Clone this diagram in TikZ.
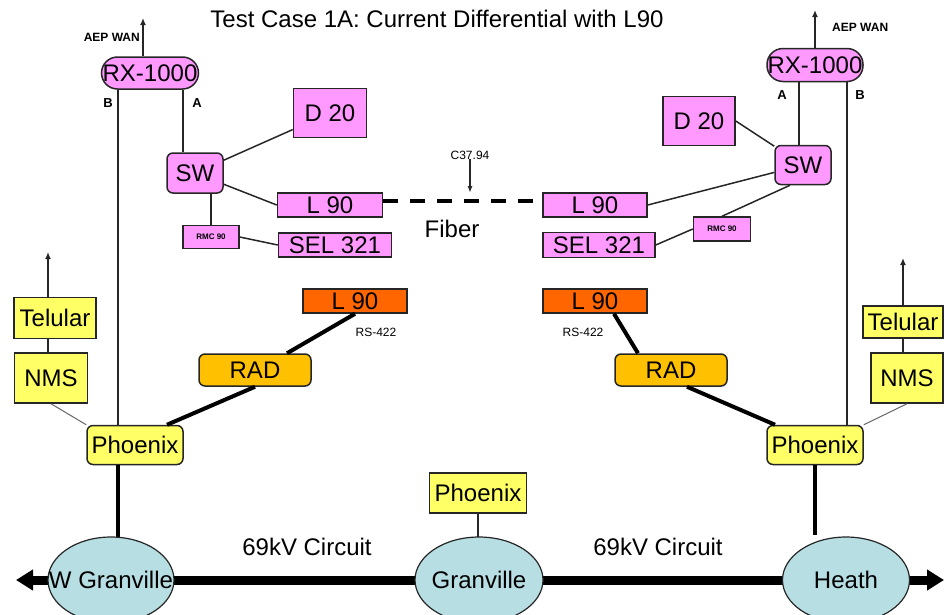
\documentclass[tikz,border=0pt]{standalone}
\usepackage{fontspec}
\setmainfont{Liberation Sans}
\usetikzlibrary{arrows.meta,shapes.geometric,calc}
\definecolor{pinkfill}{HTML}{FF99FF}
\definecolor{yellowfill}{HTML}{FFFF66}
\definecolor{radfill}{HTML}{FFC000}
\definecolor{relayfill}{HTML}{FF6600}
\definecolor{stationfill}{HTML}{B7DEE3}
\definecolor{boxline}{HTML}{262626}
\tikzset{
    box/.style = {draw=boxline, line width=1.5pt, rectangle, inner sep=0pt,
        font=\fontsize{24}{24}\selectfont},
    pinkbox/.style = {box, fill=pinkfill},
    yellowbox/.style = {box, fill=yellowfill},
    radbox/.style = {box, fill=radfill, rounded corners=6pt},
    relaybox/.style = {box, fill=relayfill},
    pill/.style = {rounded corners=16pt},
    station/.style = {draw=boxline, line width=1.2pt, ellipse, fill=stationfill,
        inner sep=0pt, minimum height=86pt, font=\fontsize{24}{24}\selectfont},
    caption/.style = {font=\fontsize{24}{24}\selectfont},
    tag/.style = {font=\fontsize{12}{12}\selectfont\bfseries, inner sep=0pt},
    note/.style = {font=\fontsize{12}{12}\selectfont, inner sep=0pt},
    link/.style = {draw=boxline, line width=1.5pt},
    faint/.style = {draw=black!60, line width=1pt},
    trunk/.style = {draw=black, line width=4pt},
    bus/.style = {draw=black, line width=9pt},
    fiber/.style = {draw=black, line width=4pt, dash pattern=on 15pt off 12pt},
    uparrow/.style = {link, -{Latex[length=7pt,width=6pt]}}
}
\begin{document}
\begin{tikzpicture}[x=1pt,y=-1pt]
\useasboundingbox (0,0) rectangle (947,614);
\node[caption,anchor=base] (title) at (437,27) {Test Case 1A: Current Differential with L90};

\node[pinkbox,pill,minimum width=97pt,minimum height=32pt] (rxW) at (150,73) {RX-1000};
\node[pinkbox,rounded corners=6pt,minimum width=56pt,minimum height=40pt] (swW) at (195,173) {SW};
\node[pinkbox,minimum width=73pt,minimum height=49pt] (dW) at (330,113) {D 20};
\node[pinkbox,minimum width=105pt,minimum height=24pt] (lnW) at (330,205) {L 90};
\node[pinkbox,minimum width=56pt,minimum height=23pt,font=\fontsize{8}{8}\selectfont\bfseries] (rmcW) at (211,237) {RMC 90};
\node[pinkbox,minimum width=113pt,minimum height=24pt] (selW) at (335,245) {SEL 321};
\node[relaybox,minimum width=104pt,minimum height=24pt] (lnoW) at (355,301) {L 90};
\node[radbox,minimum width=112pt,minimum height=32pt] (radW) at (255,370) {RAD};
\node[yellowbox,minimum width=82pt,minimum height=41pt] (telW) at (55,318) {Telular};
\node[yellowbox,minimum width=73pt,minimum height=50pt] (nmsW) at (51,378) {NMS};
\node[yellowbox,rounded corners=6pt,minimum width=96pt,minimum height=39pt] (phxW) at (135,445) {Phoenix};

\node[pinkbox,pill,minimum width=96pt,minimum height=33pt] (rxE) at (815,65) {RX-1000};
\node[pinkbox,rounded corners=6pt,minimum width=56pt,minimum height=39pt] (swE) at (803,165) {SW};
\node[pinkbox,minimum width=72pt,minimum height=49pt] (dE) at (699,121) {D 20};
\node[pinkbox,minimum width=104pt,minimum height=24pt] (lnE) at (595,205) {L 90};
\node[pinkbox,minimum width=57pt,minimum height=24pt,font=\fontsize{8}{8}\selectfont\bfseries] (rmcE) at (722,229) {RMC 90};
\node[pinkbox,minimum width=112pt,minimum height=25pt] (selE) at (599,245) {SEL 321};
\node[relaybox,minimum width=104pt,minimum height=24pt] (lnoE) at (595,301) {L 90};
\node[radbox,minimum width=112pt,minimum height=32pt] (radE) at (671,370) {RAD};
\node[yellowbox,minimum width=80pt,minimum height=32pt] (telE) at (903,322) {Telular};
\node[yellowbox,minimum width=72pt,minimum height=50pt] (nmsE) at (907,378) {NMS};
\node[yellowbox,rounded corners=6pt,minimum width=96pt,minimum height=39pt] (phxE) at (815,445) {Phoenix};

\node[yellowbox,minimum width=97pt,minimum height=40pt] (phxC) at (478,493) {Phoenix};

\node[tag,anchor=east] (wanlblW) at (140,37) {AEP WAN};
\node[tag,font=\fontsize{13}{13}\selectfont\bfseries] (bW) at (108,103) {B};
\node[tag,font=\fontsize{13}{13}\selectfont\bfseries] (aW) at (197,103) {A};
\node[tag,anchor=west] (wanlblE) at (832,27) {AEP WAN};
\node[tag,font=\fontsize{13}{13}\selectfont\bfseries] (aE) at (782,95) {A};
\node[tag,font=\fontsize{13}{13}\selectfont\bfseries] (bE) at (860,95) {B};
\node[note] (rsW) at (376,332) {RS-422};
\node[note] (rsE) at (583,332) {RS-422};
\node[note] (c37) at (470,155) {C37.94};
\node[caption] (fiber) at (452,229) {Fiber};
\node[caption] (ckW) at (307,547) {69kV Circuit};
\node[caption] (ckE) at (658,547) {69kV Circuit};

\coordinate (wanW) at (143,18);
\coordinate (wanE) at (815,10);
\coordinate (upW) at (48,252);
\coordinate (upE) at (903,258);
\coordinate (c37tip) at (470,193);
\coordinate (westend) at (16,580);
\coordinate (eastend) at (944,580);

\draw[uparrow] (wanW |- rxW.north) -- (wanW);
\draw[link] ([xshift=-32pt]rxW.south) -- ([xshift=-17pt]phxW.north);
\draw[link] ([xshift=33pt]rxW.south) -- ([xshift=-12pt]swW.north);
\draw[link] (swW) -- (dW);
\draw[link] (swW) -- (lnW.west);
\draw[link] (swW.south -| rmcW) -- (rmcW.north);
\draw[link] (rmcW.east) -- (selW.west);
\draw[uparrow] (telW.north -| upW) -- (upW);
\draw[link] (telW.south -| upW) -- (upW |- nmsW.north);
\draw[faint] (nmsW.south) -- (phxW.north west);
\draw[trunk] ([xshift=32pt]phxW.north) -- (radW.south);
\draw[trunk] ([xshift=32pt]radW.north) -- (lnoW.south);

\draw[uparrow] (rxE.north) -- (wanE);
\draw[link] ([xshift=-16pt]rxE.south) -- ([xshift=-4pt]swE.north);
\draw[link] ([xshift=32pt]rxE.south) -- ([xshift=32pt]phxE.north);
\draw[link] (dE.east) -- (swE);
\draw[link] (lnE.east) -- (swE);
\draw[link] ([xshift=-13pt]swE.south) -- (rmcE.north);
\draw[link] (selE.east) -- (rmcE.west);
\draw[uparrow] (telE.north) -- (upE);
\draw[link] (telE.south) -- (telE.south |- nmsE.north);
\draw[faint] (nmsE.south) -- (phxE.north east);
\draw[trunk] ([xshift=19pt]lnoE.south) -- ([xshift=-33pt]radE.north);
\draw[trunk] ([xshift=16pt]radE.south) -- ([xshift=-40pt]phxE.north);

\draw[fiber] ([yshift=4pt]lnW.east) -- ([yshift=4pt]lnE.west);
\draw[link,-{Latex[length=7pt,width=5pt]}] (c37.south) -- (c37tip);

\draw[trunk] ([xshift=-17pt]phxW.south) -- ++(0,72);
\draw[trunk] (phxE.south) -- ++(0,70);
\draw[link] (phxC.south) -- ++(0,24);

\draw[bus] (111,580) -- (846,580);
\draw[bus,-{Triangle[length=17pt,width=20pt]}] (111,580) -- (westend);
\draw[bus,-{Triangle[length=17pt,width=20pt]}] (846,580) -- (eastend);

\node[station,minimum width=126pt] (wgran) at (111,580) {\makebox[0pt]{W Granville}};
\node[station,minimum width=128pt] (gran) at (479,580) {\makebox[0pt]{Granville}};
\node[station,minimum width=127pt] (heath) at (846,580) {\makebox[0pt]{Heath}};
\end{tikzpicture}
\end{document}
